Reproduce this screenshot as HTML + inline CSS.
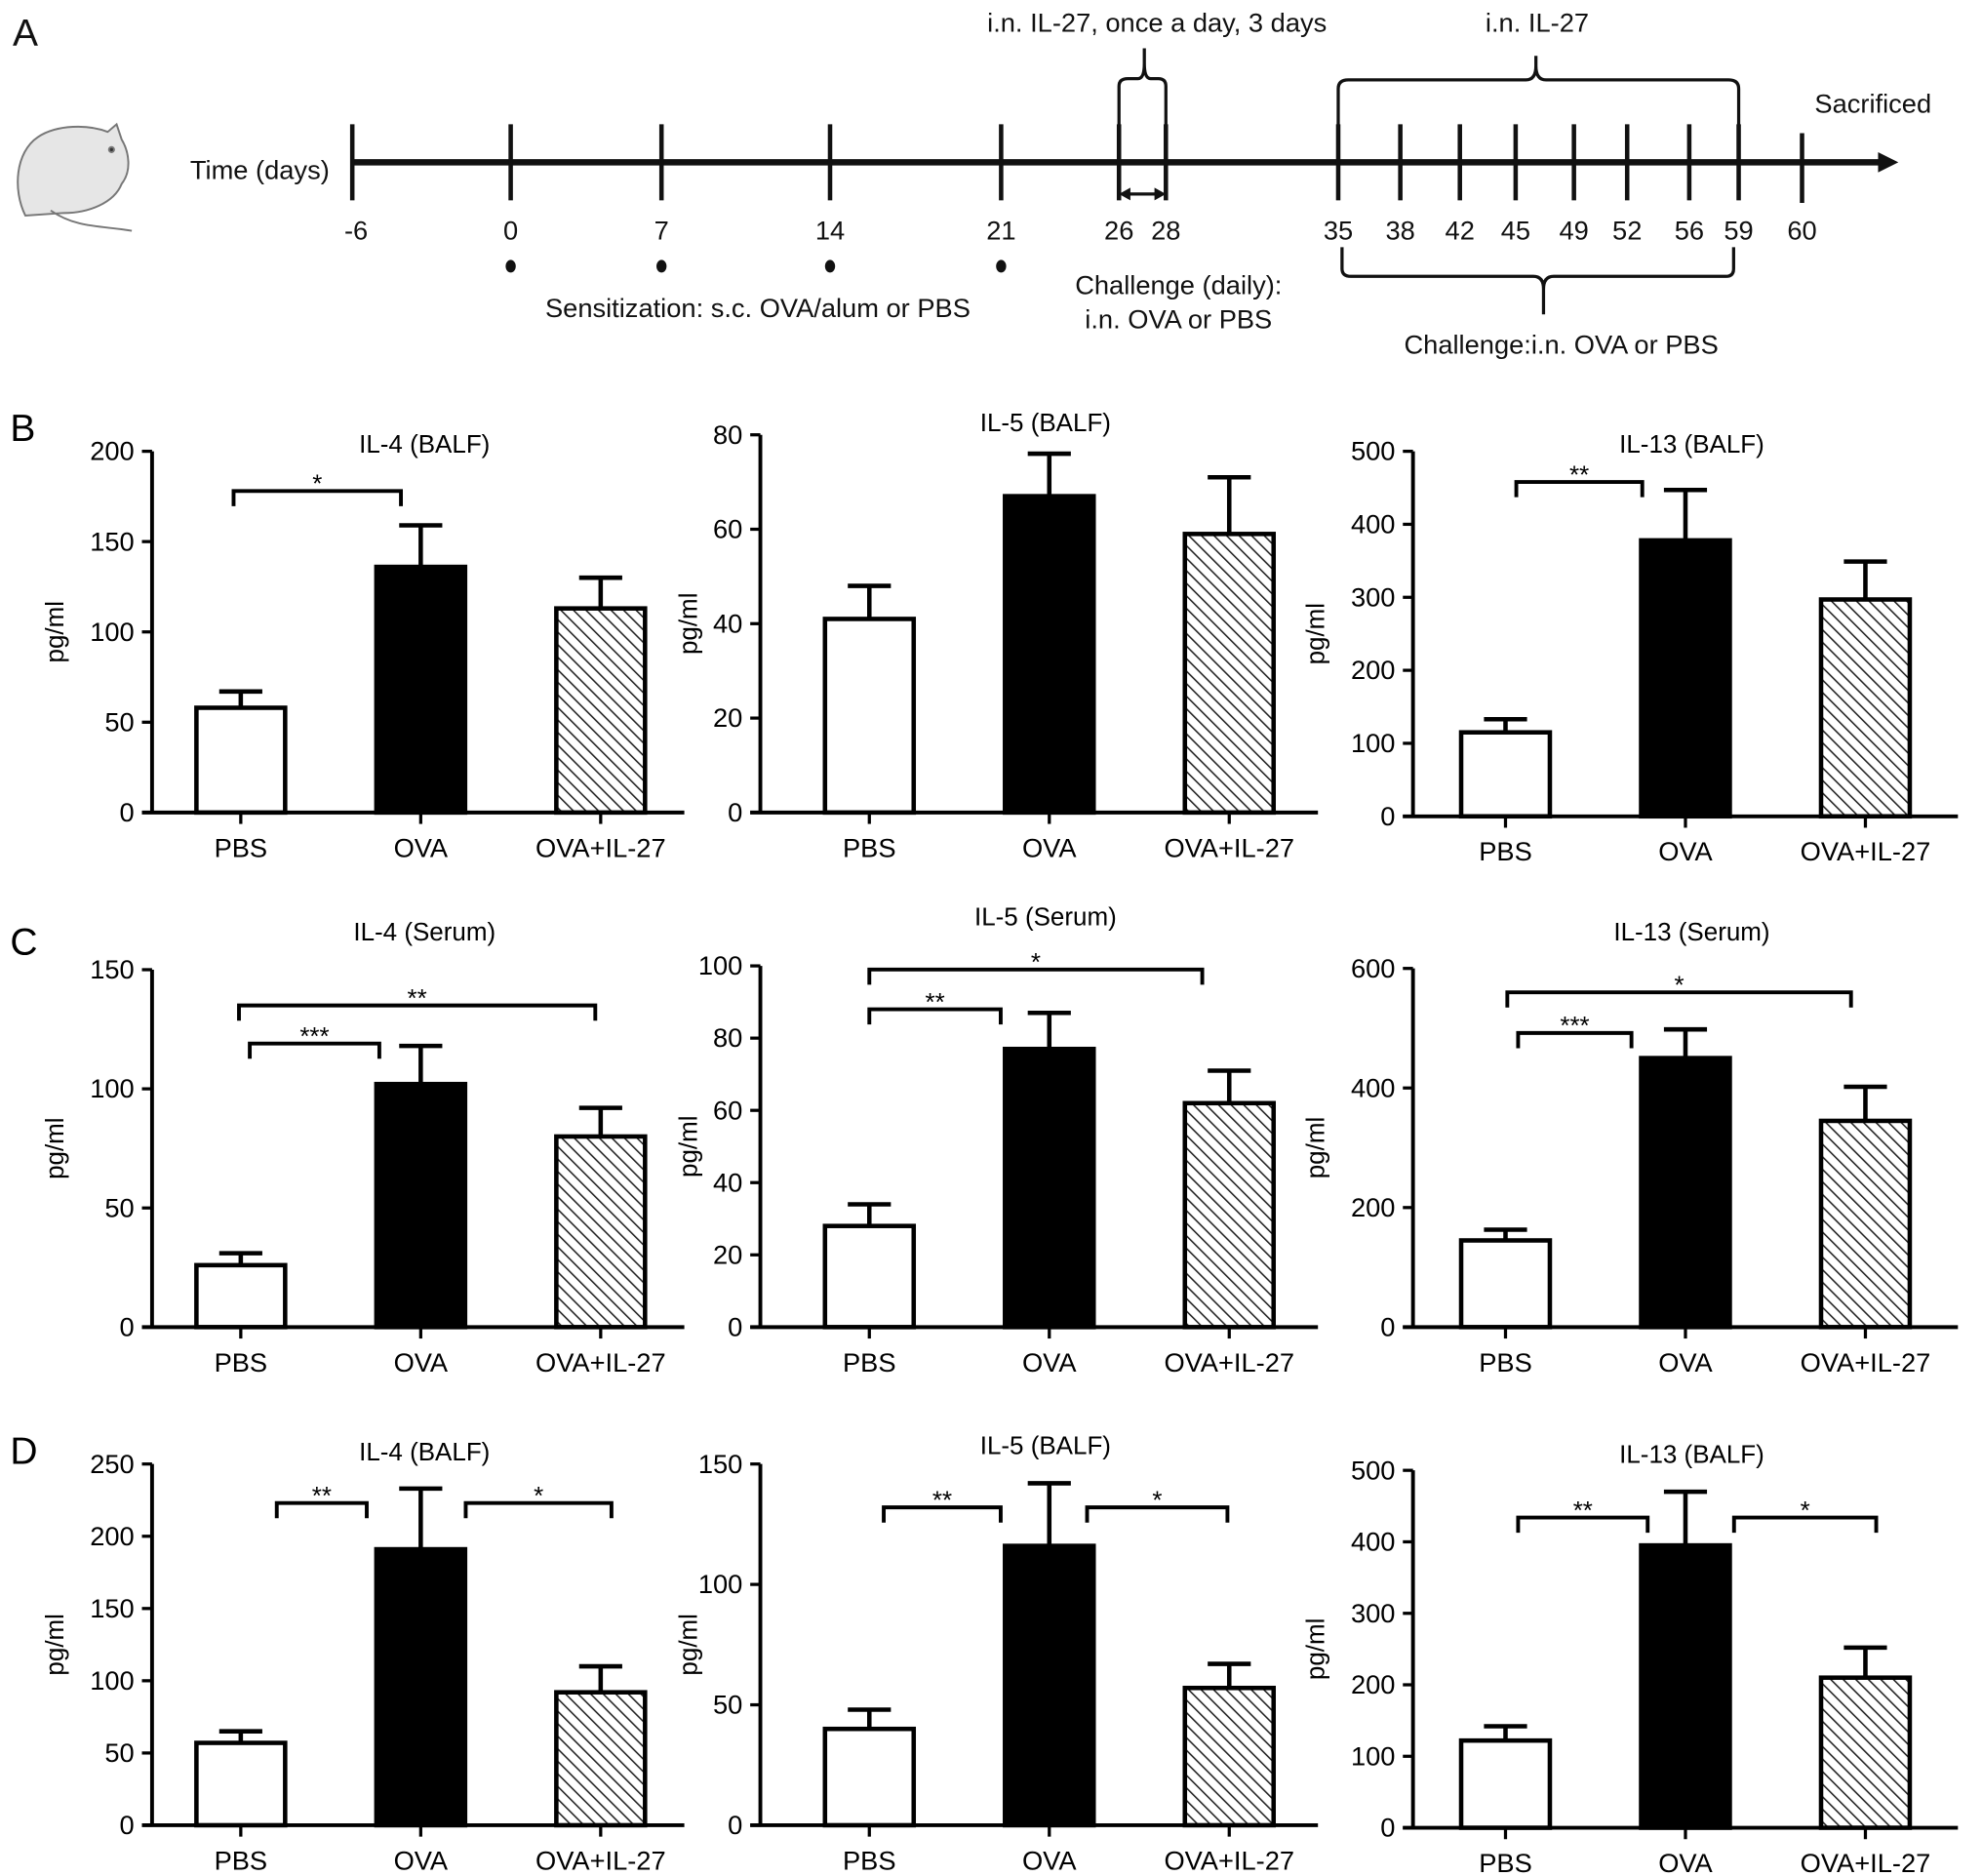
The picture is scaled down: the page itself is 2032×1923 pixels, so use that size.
<!DOCTYPE html>
<html><head><meta charset="utf-8">
<style>
html,body{margin:0;padding:0;background:#fff;}
svg{display:block;font-family:"Liberation Sans",Arial,sans-serif;}
</style></head>
<body>
<svg id="fig" width="2032" height="1923" viewBox="0 0 1564 1480" xmlns="http://www.w3.org/2000/svg">
<defs>
<pattern id="hatch" patternUnits="userSpaceOnUse" width="7" height="7" patternTransform="rotate(-45)">
<rect width="7" height="7" fill="#fff"/><line x1="0" y1="0" x2="0" y2="7" stroke="#222" stroke-width="2.4"/>
</pattern>
</defs>
<g id="panelA" fill="#111" stroke="#111">
<text x="10" y="36" font-size="30" stroke="none">A</text>
<g stroke="#777" stroke-width="1.5" fill="#e6e6e6">
<path d="M20 170 C10 150 12 120 30 108 C45 98 70 98 85 104 L92 98 L96 110 C102 120 104 135 96 145 C90 160 70 168 50 168 Z"/>
<path d="M40 166 C60 180 80 178 104 182" fill="none"/>
<circle cx="88" cy="118" r="2" fill="#333"/>
</g>
<text x="150" y="141" font-size="21" stroke="none">Time (days)</text>
<line x1="278" y1="128" x2="1485" y2="128" stroke-width="5"/>
<polygon points="1482,120 1498,128 1482,136" stroke="none"/>
<g id="tl" stroke-width="3.5"></g>
<text x="1478" y="89" font-size="21" text-anchor="middle" stroke="none">Sacrificed</text>
<text x="598" y="250" font-size="21" text-anchor="middle" stroke="none">Sensitization: s.c. OVA/alum or PBS</text>
<text x="930" y="232" font-size="21" text-anchor="middle" stroke="none">Challenge (daily):</text>
<text x="930" y="259" font-size="21" text-anchor="middle" stroke="none">i.n. OVA or PBS</text>
<text x="913" y="25" font-size="21" text-anchor="middle" stroke="none">i.n. IL-27, once a day, 3 days</text>
<text x="1213" y="25" font-size="21" text-anchor="middle" stroke="none">i.n. IL-27</text>
<text x="1232" y="279" font-size="21" text-anchor="middle" stroke="none">Challenge:i.n. OVA or PBS</text>
<path d="M883 115 L883 68 Q883 62 890 62 L898 62 Q903 62 903 50 L903 38 M903 50 Q903 62 908 62 L914 62 Q920 62 920 68 L920 115" fill="none" stroke-width="2.5"/>
<path d="M1056 115 L1056 70 Q1056 63 1064 63 L1204 63 Q1212 63 1212 52 L1212 44 M1212 52 Q1212 63 1220 63 L1364 63 Q1372 63 1372 70 L1372 115" fill="none" stroke-width="2.5"/>
<path d="M1059 195 L1059 212 Q1059 218 1066 218 L1210 218 Q1218 218 1218 228 L1218 248 M1218 228 Q1218 218 1226 218 L1362 218 Q1368 218 1368 212 L1368 195" fill="none" stroke-width="2.5"/>
<line x1="890" y1="153" x2="913" y2="153" stroke-width="2.5"/>
<polygon points="883,153 892,148 892,158" stroke="none"/>
<polygon points="920,153 911,148 911,158" stroke="none"/>
</g>
<g id="charts"></g>
</svg>
<script>
const NS="http://www.w3.org/2000/svg";
function mk(tag,attrs,parent,text){const e=document.createElementNS(NS,tag);for(const k in attrs)e.setAttribute(k,attrs[k]);if(text!==undefined)e.textContent=text;parent.appendChild(e);return e;}

// timeline data
const tlDays=["-6","0","7","14","21","26","28","35","38","42","45","49","52","56","59","60"];
const tlX=[278,403,522,655,790,883,920,1056,1105,1152,1196,1242,1284,1333,1372,1422];
const sensDays=["0","7","14","21"];
const tl=document.getElementById('tl');
tlDays.forEach((d,i)=>{
  const x=tlX[i];
  const l=mk('line',{x1:x,y1:(d==="60"?105:98),x2:x,y2:(d==="60"?160:158)},tl);
  
  
  const t=mk('text',{x:x+(d==="-6"?3:0),y:189,'font-size':21,'text-anchor':'middle',stroke:'none'},tl,d);
  
  
  if(sensDays.includes(d)){
    const c=mk('ellipse',{cx:x,cy:210,rx:4,ry:5,stroke:'none'},tl);
    
    
  }
});

// chart data
const categories=["PBS","OVA","OVA+IL-27"];
const titles=["IL-4 (BALF)","IL-5 (BALF)","IL-13 (BALF)","IL-4 (Serum)","IL-5 (Serum)","IL-13 (Serum)","IL-4 (BALF)","IL-5 (BALF)","IL-13 (BALF)"];
const means=[[58,136,113],[41,67,59],[115,378,297],[26,102,80],[28,77,62],[145,450,345],[57,191,92],[40,116,57],[122,395,210]];
const errTops=[[67,159,130],[48,76,71],[133,447,349],[31,118,92],[34,87,71],[163,498,402],[65,233,110],[48,142,67],[142,470,252]];
const yMax=[200,80,500,150,100,600,250,150,500];
const yStep=[50,20,100,50,20,200,50,50,100];
// significance: [fromCat, toCat, value, label]
const sigs=[
 [[-0.04,0.89,178,"*"]],[],[[0.06,0.76,458,"**"]],
 [[0.05,0.77,119,"***"],[-0.01,1.97,135,"**"]],[[0,0.73,88,"**"],[0,1.85,99,"*"]],[[0.07,0.70,492,"***"],[0.01,1.92,560,"*"]],
 [[0.2,0.70,223,"**"],[1.25,2.06,223,"*"]],[[0.08,0.73,132,"**"],[1.21,1.99,132,"*"]],[[0.07,0.79,434,"**"],[1.27,2.06,434,"*"]]
];

// layout
const colAxisX=[120,600,1115], colFirst=[190,686,1188], colEnd=[540,1040,1545], colYLab=[50,550,1045];
const rowZero=[[641,641,644],[1047,1047,1047],[1440,1440,1442]];
const rowTop=[[356,343,356],[765,762,764],[1155,1155,1160]];
const titleY=[[357,340,357],[742,730,742],[1152,1147,1154]];
const rowLetter=["B","C","D"], rowLetterY=[348,753,1155];
const spacing=142, bw=70;
const fills=["#fff","#000","url(#hatch)"];
const charts=document.getElementById('charts');

for(let r=0;r<3;r++){
  const L=mk('text',{x:8,y:rowLetterY[r],'font-size':30},charts,rowLetter[r]);
  
  
  for(let c=0;c<3;c++){
    const k=r*3+c;
    const g=mk('g',{},charts);
    
    
    const ax=colAxisX[c], z=rowZero[r][c], top=rowTop[r][c];
    const y=v=>z-(v/yMax[k])*(z-top);
    const x=i=>colFirst[c]+i*spacing;
    const tt=mk('text',{x:(ax+colEnd[c])/2+5,y:titleY[r][c],'font-size':20,'text-anchor':'middle'},g,titles[k]);
    
    
    const yl=mk('text',{x:0,y:0,'font-size':20,'text-anchor':'middle',transform:`translate(${colYLab[c]},${(z+top)/2}) rotate(-90)`},g,'pg/ml');
    
    
    for(let i=0;i<3;i++){
      const eb=mk('path',{d:`M${x(i)} ${y(means[k][i])} L${x(i)} ${y(errTops[k][i])} M${x(i)-17} ${y(errTops[k][i])} L${x(i)+17} ${y(errTops[k][i])}`,stroke:'#000','stroke-width':3.5,fill:'none'},g);
      
      
      const b=mk('rect',{x:x(i)-bw/2,y:y(means[k][i]),width:bw,height:z-y(means[k][i]),fill:fills[i],stroke:'#000','stroke-width':3.5},g);
      
      
      const tk=mk('line',{x1:x(i),y1:z,x2:x(i),y2:z+9,stroke:'#000','stroke-width':2.5},g);
      
      
      const xl=mk('text',{x:x(i),y:z+35,'font-size':21,'text-anchor':'middle'},g,categories[i]);
      
      
    }
    const ya=mk('line',{x1:ax,y1:top,x2:ax,y2:z,stroke:'#000','stroke-width':3},g);
    
    
    const xa=mk('line',{x1:ax-8,y1:z,x2:colEnd[c],y2:z,stroke:'#000','stroke-width':3},g);
    
    
    for(let v=0;v<=yMax[k];v+=yStep[k]){
      const t=mk('line',{x1:ax-8,y1:y(v),x2:ax,y2:y(v),stroke:'#000','stroke-width':2.5},g);
      
      
      const tl2=mk('text',{x:ax-14,y:y(v)+7,'font-size':21,'text-anchor':'end'},g,String(v));
      
      
    }
    sigs[k].forEach(s=>{
      const x1=colFirst[c]+s[0]*spacing, x2=colFirst[c]+s[1]*spacing, yy=y(s[2]);
      const p=mk('path',{d:`M${x1} ${yy+12} L${x1} ${yy} L${x2} ${yy} L${x2} ${yy+12}`,stroke:'#000','stroke-width':3,fill:'none'},g);
      
      
      const st=mk('text',{x:(x1+x2)/2,y:yy+1,'font-size':20,'text-anchor':'middle'},g,s[3]);
      
      
    });
  }
}
</script>
</body></html>
